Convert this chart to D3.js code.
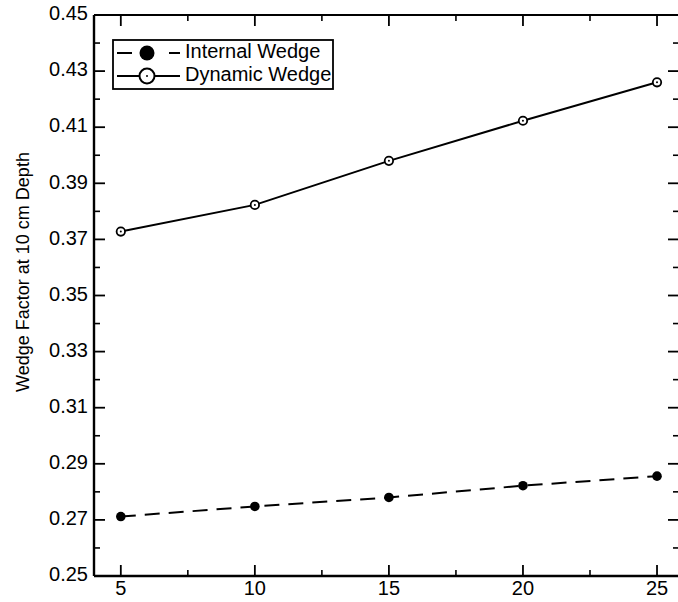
<!DOCTYPE html>
<html>
<head>
<meta charset="utf-8">
<script src="https://cdn.jsdelivr.net/npm/d3@7"></script>
<style>
  html, body { margin: 0; padding: 0; background: #fff; }
  svg { display: block; }
  text { font-family: "Liberation Sans", Arial, Helvetica, sans-serif; fill: #000; }
</style>
</head>
<body>
<svg id="chart" width="678" height="602"></svg>
<script>
const fieldSizes = [5, 10, 15, 20, 25];
const internalWedge = [0.2712, 0.2748, 0.2780, 0.2822, 0.2856];
const dynamicWedge = [0.3728, 0.3823, 0.3980, 0.4123, 0.4260];
const xTicks = [5, 10, 15, 20, 25];
const xMinorTicks = [7.5, 12.5, 17.5, 22.5];
const yTicks = [0.25, 0.27, 0.29, 0.31, 0.33, 0.35, 0.37, 0.39, 0.41, 0.43, 0.45];
const yMinorTicks = [0.26, 0.28, 0.30, 0.32, 0.34, 0.36, 0.38, 0.40, 0.42, 0.44];
const seriesNames = ["Internal Wedge", "Dynamic Wedge"];
const yLabel = "Wedge Factor at 10 cm Depth";

const svg = d3.select("#chart");
const L = 94, R = 679, T = 15, B = 576;
const x = d3.scaleLinear().domain([4, 25.82]).range([L, R]);
const y = d3.scaleLinear().domain([0.25, 0.45]).range([B, T]);

const g = svg.append("g");

// frame
g.append("line").attr("x1", L).attr("x2", R).attr("y1", B).attr("y2", B).attr("stroke", "#000").attr("stroke-width", 2.4);
g.append("line").attr("x1", L).attr("x2", L).attr("y1", T).attr("y2", B).attr("stroke", "#000").attr("stroke-width", 2.4);
g.append("line").attr("x1", L).attr("x2", R).attr("y1", T).attr("y2", T).attr("stroke", "#000").attr("stroke-width", 2.2);
g.append("line").attr("x1", R).attr("x2", R).attr("y1", T).attr("y2", B).attr("stroke", "#000").attr("stroke-width", 2);

const MAJ = 11, MIN = 6;
// x ticks bottom & top (inward)
const xt = g.append("g");
xTicks.forEach(v => {
  xt.append("line").attr("x1", x(v)).attr("x2", x(v)).attr("y1", B).attr("y2", B - MAJ).attr("stroke", "#000").attr("stroke-width", 1.8);
  xt.append("line").attr("x1", x(v)).attr("x2", x(v)).attr("y1", T).attr("y2", T + MAJ).attr("stroke", "#000").attr("stroke-width", 1.8);
  xt.append("text").attr("x", x(v)).attr("y", B + 14).attr("text-anchor", "middle").attr("dominant-baseline", "middle").attr("font-size", 20).text(v);
});
xMinorTicks.forEach(v => {
  xt.append("line").attr("x1", x(v)).attr("x2", x(v)).attr("y1", B).attr("y2", B - MIN).attr("stroke", "#000").attr("stroke-width", 1.6);
  xt.append("line").attr("x1", x(v)).attr("x2", x(v)).attr("y1", T).attr("y2", T + MIN).attr("stroke", "#000").attr("stroke-width", 1.6);
});
// y ticks left & right (inward)
const yt = g.append("g");
yTicks.forEach(v => {
  yt.append("line").attr("x1", L).attr("x2", L + MAJ).attr("y1", y(v)).attr("y2", y(v)).attr("stroke", "#000").attr("stroke-width", 1.8);
  yt.append("line").attr("x1", R).attr("x2", R - MAJ).attr("y1", y(v)).attr("y2", y(v)).attr("stroke", "#000").attr("stroke-width", 1.8);
  yt.append("text").attr("x", L - 6).attr("y", y(v)).attr("text-anchor", "end").attr("dominant-baseline", "middle").attr("font-size", 20).text(v.toFixed(2));
});
yMinorTicks.forEach(v => {
  yt.append("line").attr("x1", L).attr("x2", L + MIN).attr("y1", y(v)).attr("y2", y(v)).attr("stroke", "#000").attr("stroke-width", 1.6);
  yt.append("line").attr("x1", R).attr("x2", R - MIN).attr("y1", y(v)).attr("y2", y(v)).attr("stroke", "#000").attr("stroke-width", 1.6);
});

// y label
svg.append("text")
  .attr("transform", `translate(29, 272) rotate(-90)`)
  .attr("text-anchor", "middle").attr("font-size", 18).text(yLabel);

// lines
const line = d3.line().x(d => x(d[0])).y(d => y(d[1]));
const intData = fieldSizes.map((f, i) => [f, internalWedge[i]]);
const dynData = fieldSizes.map((f, i) => [f, dynamicWedge[i]]);

g.append("path").datum(intData).attr("d", line).attr("fill", "none").attr("stroke", "#000").attr("stroke-width", 2).attr("stroke-dasharray", "15,9");
g.append("path").datum(dynData).attr("d", line).attr("fill", "none").attr("stroke", "#000").attr("stroke-width", 2);

g.selectAll(".ip").data(intData).enter().append("circle")
  .attr("cx", d => x(d[0])).attr("cy", d => y(d[1])).attr("r", 4.8).attr("fill", "#000");
g.selectAll(".dp").data(dynData).enter().append("circle")
  .attr("cx", d => x(d[0])).attr("cy", d => y(d[1])).attr("r", 4.2).attr("fill", "#fff").attr("stroke", "#000").attr("stroke-width", 1.8);
g.selectAll(".dc").data(dynData).enter().append("circle")
  .attr("cx", d => x(d[0])).attr("cy", d => y(d[1])).attr("r", 1).attr("fill", "#000");

// legend
const lg = svg.append("g");
lg.append("rect").attr("x", 113).attr("y", 40).attr("width", 220).attr("height", 49).attr("fill", "#fff").attr("stroke", "#000").attr("stroke-width", 1.8);
const ly1 = 53, ly2 = 76;
lg.append("line").attr("x1", 117).attr("x2", 180).attr("y1", ly1).attr("y2", ly1).attr("stroke", "#000").attr("stroke-width", 2).attr("stroke-dasharray", "15,16,5,16,15");
lg.append("circle").attr("cx", 147).attr("cy", ly1).attr("r", 7.5).attr("fill", "#000");
lg.append("text").attr("x", 185).attr("y", ly1).attr("dominant-baseline", "middle").attr("font-size", 20).text(seriesNames[0]);
lg.append("line").attr("x1", 117).attr("x2", 180).attr("y1", ly2).attr("y2", ly2).attr("stroke", "#000").attr("stroke-width", 2);
lg.append("circle").attr("cx", 147).attr("cy", ly2).attr("r", 7.5).attr("fill", "#fff").attr("stroke", "#000").attr("stroke-width", 2);
lg.append("circle").attr("cx", 147).attr("cy", ly2).attr("r", 1).attr("fill", "#000");
lg.append("text").attr("x", 185).attr("y", ly2).attr("dominant-baseline", "middle").attr("font-size", 20).text(seriesNames[1]);
</script>
</body>
</html>
